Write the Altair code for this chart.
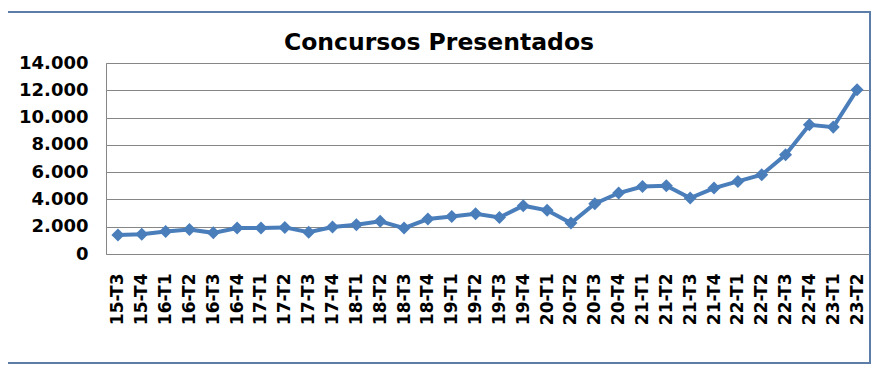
import altair as alt
import pandas as pd

periods = ["15-T3", "15-T4", "16-T1", "16-T2", "16-T3", "16-T4", "17-T1", "17-T2",
           "17-T3", "17-T4", "18-T1", "18-T2", "18-T3", "18-T4", "19-T1", "19-T2",
           "19-T3", "19-T4", "20-T1", "20-T2", "20-T3", "20-T4", "21-T1", "21-T2",
           "21-T3", "21-T4", "22-T1", "22-T2", "22-T3", "22-T4", "23-T1", "23-T2"]
presentados = [1400, 1450, 1650, 1800, 1550, 1900, 1900, 1950, 1600, 1980, 2150, 2400,
               1900, 2560, 2750, 2950, 2680, 3540, 3200, 2270, 3680, 4470, 4950, 5000,
               4100, 4830, 5320, 5810, 7270, 9470, 9300, 12040]
y_ticks = [0, 2000, 4000, 6000, 8000, 10000, 12000, 14000]
title_text = "Concursos Presentados"

df = pd.DataFrame({"periodo": periods, "valor": presentados})

W, H = 763, 191
BLUE = "#4A7EBB"
FONT = "DejaVu Sans"

x_enc = alt.X("periodo:N", sort=periods, title=None,
              scale=alt.Scale(type="point", padding=0.5),
              axis=alt.Axis(labelAngle=270, labelFont=FONT, labelFontWeight="bold",
                            labelFontSize=17, labelColor="black", labelPadding=19,
                            ticks=False, domain=False, grid=False, labelOverlap=False))
y_enc = alt.Y("valor:Q", title=None,
              scale=alt.Scale(domain=[0, 14000], nice=False),
              axis=alt.Axis(values=y_ticks, tickCount=20, labelFont=FONT, labelFontWeight="bold",
                            labelFontSize=18, labelColor="black", labelPadding=18,
                            labelOverlap=False, labelBound=False, labelFlush=False,
                            ticks=False, domain=False, grid=True, gridColor="#868686",
                            gridWidth=1,
                            labelExpr="replace(format(datum.value, ',d'), ',', '.')"))

base = alt.Chart(df)
line = base.mark_line(color=BLUE, strokeWidth=4).encode(x=x_enc, y=y_enc)
pts = base.mark_point(shape="diamond", filled=True, size=170, color=BLUE, opacity=1).encode(
    x=x_enc, y=y_enc)

one = alt.Chart(pd.DataFrame({"k": [0]}))
border = one.mark_rect(fill=None, stroke="#5B7DA8", strokeWidth=2).encode(
    x=alt.value(-100), x2=alt.value(764), y=alt.value(-51), y2=alt.value(300))
title = one.mark_text(font=FONT, fontWeight="bold", fontSize=23.5, color="black",
                      align="center", baseline="alphabetic").encode(
    x=alt.value(333), y=alt.value(-13), text=alt.value(title_text))

chart = alt.layer(line, pts, border, title).properties(
    width=W, height=H,
    autosize=alt.AutoSizeParams(type="none"),
    padding={"left": 98, "top": 55, "right": 6, "bottom": 111},
    background="white",
).configure_view(stroke="#868686", strokeWidth=1)

chart.save("out.html", embed_options={"renderer": "svg", "actions": False})
